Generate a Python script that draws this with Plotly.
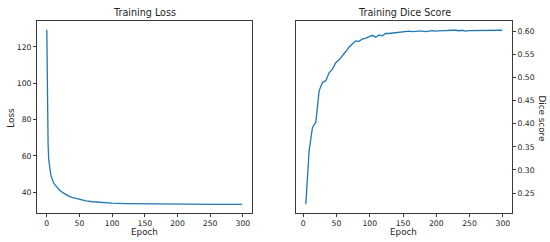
import plotly.graph_objects as go
from plotly.subplots import make_subplots

# training loss
loss_epochs = [0, 1, 2, 3, 4, 5, 6, 7, 8, 9, 10, 12, 14, 16, 18, 20, 25, 30, 35, 40,
               45, 50, 60, 70, 80, 90, 100, 120, 140, 160, 180, 200, 220, 240, 260, 280, 299]
loss_values = [129.5, 80.0, 66.0, 58.0, 54.0, 51.5, 50.0, 48.5, 47.3, 46.2, 45.5, 44.3, 43.3,
               42.5, 41.7, 41.0, 39.7, 38.6, 37.6, 37.0, 36.5, 36.1, 35.3, 34.8, 34.4, 34.2,
               34.0, 33.8, 33.7, 33.6, 33.6, 33.5, 33.5, 33.5, 33.4, 33.4, 33.4]

# training dice score, sampled every 5 epochs
dice_epochs = list(range(4, 300, 5))
dice_values = [0.226, 0.342, 0.392, 0.403, 0.471, 0.489, 0.493, 0.510, 0.518, 0.532,
               0.538, 0.546, 0.556, 0.566, 0.573, 0.579, 0.578, 0.583, 0.585, 0.588,
               0.591, 0.587, 0.592, 0.590, 0.595, 0.595, 0.596, 0.597, 0.598, 0.599,
               0.599, 0.600, 0.599, 0.600, 0.600, 0.600, 0.599, 0.600, 0.601, 0.600,
               0.601, 0.601, 0.601, 0.602, 0.602, 0.602, 0.601, 0.602, 0.600, 0.601,
               0.601, 0.602, 0.601, 0.602, 0.601, 0.602, 0.602, 0.602, 0.602, 0.602]

W, H = 550, 242
blue = '#1f77b4'
spine = '#3a3a3a'
txt = '#262626'
font = 'DejaVu Sans'

fig = make_subplots(rows=1, cols=2)

fig.add_trace(go.Scatter(x=loss_epochs, y=loss_values, mode='lines',
                         line=dict(color=blue, width=1.3), showlegend=False), row=1, col=1)
fig.add_trace(go.Scatter(x=dice_epochs, y=dice_values, mode='lines',
                         line=dict(color=blue, width=1.3), showlegend=False), row=1, col=2)

axis_style = dict(showline=True, linecolor=spine, linewidth=1, mirror=True,
                  ticks='outside', ticklen=3, tickwidth=1, tickcolor=spine,
                  showgrid=False, zeroline=False,
                  tickfont=dict(family=font, size=7.7, color=txt))

fig.update_layout(
    xaxis=dict(domain=[37 / W, 252 / W], range=[-15, 314], tick0=0, dtick=50, **axis_style),
    yaxis=dict(domain=[1 - 213 / H, 1 - 21 / H], range=[28.6, 134.3], tick0=0, dtick=20,
               **axis_style),
    xaxis2=dict(domain=[296 / W, 512 / W], range=[-10.75, 313.75], tick0=0, dtick=50,
                **axis_style),
    yaxis2=dict(domain=[1 - 213 / H, 1 - 21 / H], range=[0.207, 0.622], tick0=0.25,
                dtick=0.05, tickformat='.2f', side='right', **axis_style),
    width=W, height=H,
    margin=dict(l=0, r=0, t=0, b=0),
    plot_bgcolor='white', paper_bgcolor='white',
    font=dict(family=font, color=txt),
)

labels = [
    ('Training Loss', 144.5, 12.5, 0, 9.6),
    ('Training Dice Score', 404, 12.5, 0, 9.6),
    ('Epoch', 144.5, 231.5, 0, 8.8),
    ('Epoch', 403, 231.5, 0, 8.8),
    ('Loss', 10.7, 118, -90, 8.8),
    ('Dice score', 541.5, 118, 90, 8.8),
]
for text, px, py, ang, size in labels:
    fig.add_annotation(text=text, x=px / W, y=1 - py / H, xref='paper', yref='paper',
                       xanchor='center', yanchor='middle', showarrow=False, textangle=ang,
                       font=dict(family=font, size=size, color=txt))

# the page body has a default margin; drop it so the figure sits at the window corner
fig.write_html('out.html', config={'displayModeBar': False},
               post_script="document.body.style.margin='0';")
